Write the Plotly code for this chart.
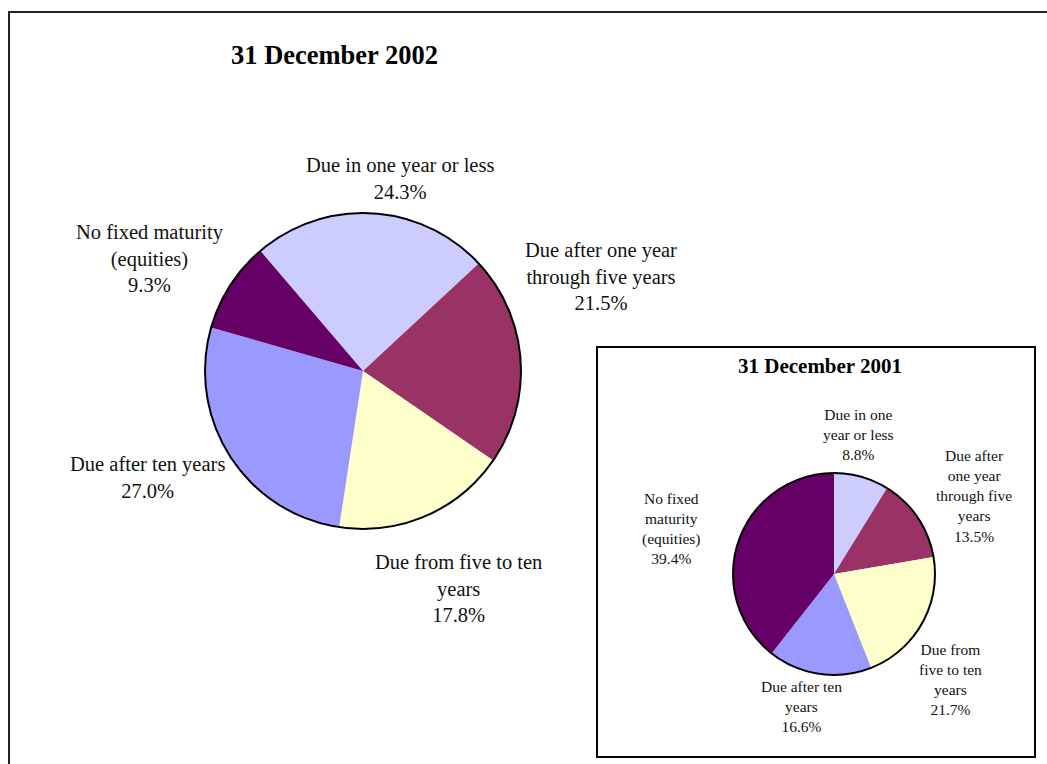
import plotly.graph_objects as go

W, H = 1047, 764

# Maturity profile, 31 December 2002 (percent of portfolio)
labels_2002 = ["Due in one year or less", "Due after one year<br>through five years",
               "Due from five to ten<br>years", "Due after ten years",
               "No fixed maturity<br>(equities)"]
values_2002 = [24.3, 21.5, 17.8, 27.0, 9.3]

# Maturity profile, 31 December 2001 (percent of portfolio)
labels_2001 = ["Due in one<br>year or less", "Due after<br>one year<br>through five<br>years",
               "Due from<br>five to ten<br>years", "Due after ten<br>years",
               "No fixed<br>maturity<br>(equities)"]
values_2001 = [8.8, 13.5, 21.7, 16.6, 39.4]

colors = ["#CCCCFF", "#993366", "#FFFFCC", "#9999FF", "#660066"]
FONT = "Liberation Serif, Times New Roman, serif"


def px_domain(cx, cy, r):
    return dict(x=[(cx - r) / W, (cx + r) / W], y=[1 - (cy + r) / H, 1 - (cy - r) / H])


big = dict(cx=363, cy=371, r=158)
small = dict(cx=834, cy=574, r=101)

fig = go.Figure()


def add_pie(values, geo, rotation):
    dom = px_domain(geo["cx"], geo["cy"], geo["r"])
    fig.add_trace(go.Pie(values=values, sort=False, direction="clockwise", rotation=rotation,
                         marker=dict(colors=colors, line=dict(width=0)),
                         textinfo="none", hoverinfo="skip", showlegend=False, domain=dom))
    # outer rim of the pie
    fig.add_trace(go.Pie(values=[1], sort=False, marker=dict(colors=["rgba(0,0,0,0)"],
                         line=dict(color="black", width=2)),
                         textinfo="none", hoverinfo="skip", showlegend=False, domain=dom))


add_pie(values_2002, big, -40.5)
add_pie(values_2001, small, 0)

# label anchor points (pixel centres) for each slice
pos_2002 = [(400, 178), (601, 277), (458, 588), (147, 477), (150, 258)]
pos_2001 = [(858, 434), (974, 496), (950, 679), (801, 706), (671, 528)]


def note(x, y, text, size, color="#111"):
    return dict(x=x / W, y=1 - y / H, xref="paper", yref="paper", showarrow=False,
                xanchor="center", yanchor="middle", text=text, align="center",
                font=dict(family=FONT, size=size, color=color))


ann = []
for lab, v, (x, y) in zip(labels_2002, values_2002, pos_2002):
    ann.append(note(x, y, f"{lab}<br>{v:.1f}%", 20.5))
for lab, v, (x, y) in zip(labels_2001, values_2001, pos_2001):
    ann.append(note(x, y, f"{lab}<br>{v:.1f}%", 15.5))

ann.append(note(334.5, 55, "<b>31 December 2002</b>", 26.5, "black"))
ann.append(note(820, 366, "<b>31 December 2001</b>", 21, "black"))

shapes = [
    dict(type="rect", xref="paper", yref="paper", layer="below",
         x0=9 / W, x1=1.02, y0=-0.05, y1=1 - 12 / H,
         line=dict(color="#222", width=2), fillcolor="white"),
    dict(type="rect", xref="paper", yref="paper", layer="below",
         x0=597 / W, x1=1035 / W, y0=1 - 757 / H, y1=1 - 347 / H,
         line=dict(color="black", width=2), fillcolor="white"),
]

fig.update_layout(width=W, height=H, margin=dict(l=0, r=0, t=0, b=0),
                  paper_bgcolor="white", plot_bgcolor="white",
                  annotations=ann, shapes=shapes)

fig.write_html("out.html")
